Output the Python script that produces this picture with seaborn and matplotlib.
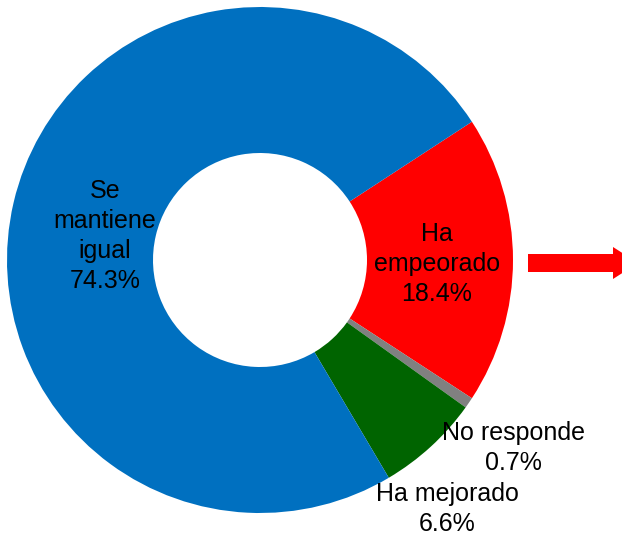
import numpy as np
import matplotlib
matplotlib.use("Agg")
import matplotlib.pyplot as plt
import seaborn as sns
from matplotlib.patches import FancyArrow

# ===================== data =====================
categories = ["Ha empeorado", "No responde", "Ha mejorado", "Se mantiene igual"]
shares = [18.4, 0.7, 6.6, 74.3]
label_texts = ["Ha\nempeorado\n18.4%", "No responde\n0.7%",
               "Ha mejorado\n6.6%", "Se\nmantiene\nigual\n74.3%"]
colors = ["#FF0000", "#808080", "#006400", "#0070C0"]

# ===================== style =====================
sns.set_theme(style="white")
plt.rcParams["font.family"] = ["Liberation Sans", "DejaVu Sans"]

W, H = 622, 537
fig = plt.figure(figsize=(W / 100, H / 100), dpi=100)
ax = fig.add_axes([0, 0, 1, 1])

cx, cy, r_out, r_in = 260, H - 260, 253, 107
start = shares[0] / 100 * 360 / 2  # red slice centred on 3 o'clock
ax.pie(shares, colors=colors, startangle=start, counterclock=False,
       radius=r_out, center=(cx, cy),
       wedgeprops=dict(width=r_out - r_in, linewidth=0))

# label positions in pixel coords (x, y from top)
label_pos = [(437, 264), (513, 448), (447, 509), (105, 236)]
for txt, (x, y) in zip(label_texts, label_pos):
    ax.text(x, H - y, txt, ha="center", va="center", fontsize=18,
            color="black", linespacing=1.33)

# red arrow on the right edge
ax.add_patch(FancyArrow(528, H - 263, 110, 0, width=18, head_width=32,
                        head_length=25, length_includes_head=True,
                        color="#FF0000", linewidth=0))

ax.set_xlim(0, W)
ax.set_ylim(0, H)
ax.set_aspect("equal")
ax.axis("off")

fig.savefig("out.png", dpi=100)
